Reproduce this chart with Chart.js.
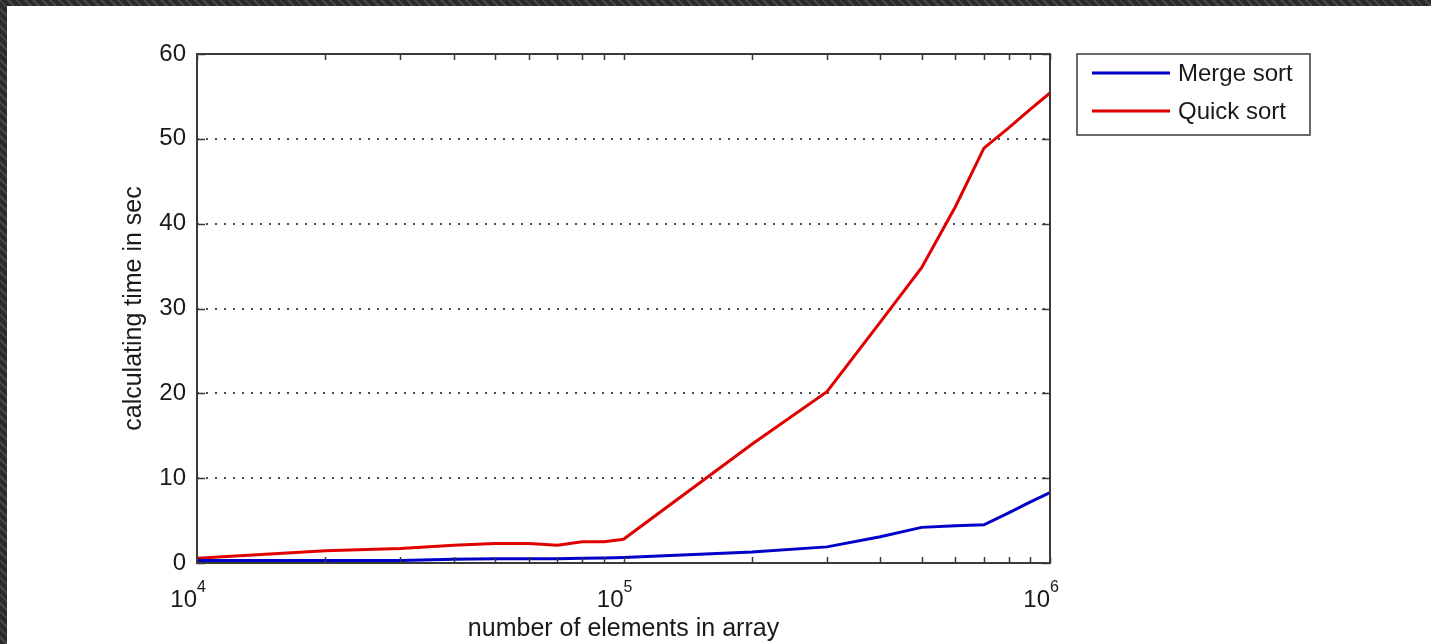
<!DOCTYPE html>
<html>
<head>
<meta charset="utf-8">
<title>Merge sort vs Quick sort</title>
<script src="https://cdn.jsdelivr.net/npm/chart.js@4/dist/chart.umd.min.js"></script>
<style>
  html, body { margin: 0; padding: 0; }
  body {
    width: 1431px; height: 644px; overflow: hidden; position: relative;
    background: repeating-linear-gradient(45deg, #2b2b2b 0 4px, #474747 4px 6px);
  }
  #paper { position: absolute; left: 7px; top: 6px; right: 0; bottom: 0; background: #fff; }
  #chart { position: absolute; left: 0; top: 0; }
</style>
</head>
<body>
<div id="paper"></div>
<canvas id="chart" width="1431" height="644"></canvas>
<script>
// array sizes (x, log scale)
const sizes = [1e4, 2e4, 3e4, 4e4, 5e4, 6e4, 7e4, 8e4, 9e4,
               1e5, 2e5, 3e5, 4e5, 5e5, 6e5, 7e5, 8e5, 9e5, 1e6]
// calculating time in sec
const mergeTimes = [0.3, 0.3, 0.3, 0.45, 0.5, 0.5, 0.5, 0.55, 0.6,
                    0.65, 1.3, 1.9, 3.1, 4.2, 4.4, 4.5, 5.9, 7.2, 8.3]
const quickTimes = [0.55, 1.45, 1.7, 2.1, 2.3, 2.3, 2.1, 2.5, 2.5,
                    2.8, 14.0, 20.2, 28.4, 34.8, 42.0, 48.9, 51.3, 53.5, 55.4]

const seriesLabels = ['Merge sort', 'Quick sort']
const seriesColors = ['#0000c8', '#e00000']

// tick positions
const xTicks = [1e4, 2e4, 3e4, 4e4, 5e4, 6e4, 7e4, 8e4, 9e4,
                1e5, 2e5, 3e5, 4e5, 5e5, 6e5, 7e5, 8e5, 9e5, 1e6]
const xMajorBase = '10'
const yTicks = [0, 10, 20, 30, 40, 50, 60]

const xTitle = 'number of elements in array'
const yTitle = 'calculating time in sec'

const FONT = '"Liberation Sans", Arial, Helvetica, sans-serif'
const axisColor = '#3a3a3a'
const textColor = '#1a1a1a'

const isDecade = v => Math.abs(Math.log10(v) - Math.round(Math.log10(v))) < 1e-9

// MATLAB-style box, inward ticks, superscript decade labels and legend
const matlabAxes = {
  id: 'matlabAxes',
  afterDatasetsDraw(chart) {
    const {ctx, chartArea: a, scales: {x, y}} = chart
    ctx.save()
    ctx.strokeStyle = axisColor
    ctx.lineWidth = 1.5
    ctx.beginPath()
    x.ticks.forEach(t => {
      const px = Math.round(x.getPixelForValue(t.value)) + 0.5
      const len = 6
      ctx.moveTo(px, a.bottom); ctx.lineTo(px, a.bottom - len)
      ctx.moveTo(px, a.top); ctx.lineTo(px, a.top + len)
    })
    y.ticks.forEach(t => {
      const py = Math.round(y.getPixelForValue(t.value)) + 0.5
      ctx.moveTo(a.left, py); ctx.lineTo(a.left + 8, py)
      ctx.moveTo(a.right, py); ctx.lineTo(a.right - 8, py)
    })
    ctx.stroke()
    ctx.lineWidth = 2
    ctx.strokeRect(a.left, a.top, a.right - a.left, a.bottom - a.top)

    // decade labels: 10 with superscript exponent
    ctx.fillStyle = textColor
    ctx.textBaseline = 'alphabetic'
    x.ticks.filter(t => isDecade(t.value)).forEach(t => {
      const px = x.getPixelForValue(t.value)
      ctx.font = '24px ' + FONT
      ctx.textAlign = 'right'
      ctx.fillText(xMajorBase, px, 607)
      ctx.font = '16px ' + FONT
      ctx.textAlign = 'left'
      ctx.fillText(String(Math.round(Math.log10(t.value))), px, 592)
    })
    ctx.restore()
  },
  afterDraw(chart) {
    const {ctx} = chart
    const box = {left: 1077, top: 54, width: 233, height: 81}
    ctx.save()
    ctx.fillStyle = '#fff'
    ctx.fillRect(box.left, box.top, box.width, box.height)
    ctx.strokeStyle = axisColor
    ctx.lineWidth = 1.5
    ctx.strokeRect(box.left, box.top, box.width, box.height)
    ctx.font = '24px ' + FONT
    ctx.textAlign = 'left'
    ctx.textBaseline = 'middle'
    chart.data.datasets.forEach((ds, i) => {
      const ly = box.top + 19 + i * 38
      ctx.strokeStyle = ds.borderColor
      ctx.lineWidth = 3
      ctx.beginPath()
      ctx.moveTo(box.left + 15, ly); ctx.lineTo(box.left + 93, ly)
      ctx.stroke()
      ctx.fillStyle = textColor
      ctx.fillText(ds.label, box.left + 101, ly + 1)
    })
    ctx.restore()
  }
}

const chart = new Chart(document.getElementById('chart'), {
  type: 'line',
  data: {
    datasets: [
      {
        label: seriesLabels[0],
        data: sizes.map((s, i) => ({x: s, y: mergeTimes[i]})),
        borderColor: seriesColors[0],
        borderWidth: 3,
        pointRadius: 0,
        tension: 0
      },
      {
        label: seriesLabels[1],
        data: sizes.map((s, i) => ({x: s, y: quickTimes[i]})),
        borderColor: seriesColors[1],
        borderWidth: 3,
        pointRadius: 0,
        tension: 0
      }
    ]
  },
  options: {
    responsive: false,
    devicePixelRatio: 1,
    animation: false,
    layout: { padding: {left: 115, top: 54, right: 381, bottom: 0} },
    plugins: {
      legend: { display: false },
      tooltip: { enabled: false }
    },
    scales: {
      x: {
        type: 'logarithmic',
        min: 1e4,
        max: 1e6,
        afterBuildTicks: s => { s.ticks = xTicks.map(v => ({value: v, major: isDecade(v)})) },
        afterFit: s => { s.height = 81 },
        ticks: { display: false },
        grid: { display: false },
        border: { display: false },
        title: {
          display: true,
          text: xTitle,
          color: textColor,
          font: { family: FONT, size: 25 },
          padding: {top: 0, bottom: 0}
        }
      },
      y: {
        min: 0,
        max: 60,
        afterBuildTicks: s => { s.ticks = yTicks.map(v => ({value: v})) },
        afterFit: s => { s.width = 82 },
        ticks: {
          color: textColor,
          padding: 11,
          font: { family: FONT, size: 24 }
        },
        grid: {
          drawTicks: false,
          lineWidth: 2,
          color: c => (c.tick && c.tick.value > 0 && c.tick.value < 60) ? '#4a4a4a' : 'rgba(0,0,0,0)'
        },
        border: { display: false, dash: [2, 7] },
        title: {
          display: true,
          text: yTitle,
          color: textColor,
          font: { family: FONT, size: 25 },
          padding: {top: 4, bottom: 4}
        }
      }
    }
  },
  plugins: [matlabAxes]
})
</script>
</body>
</html>
